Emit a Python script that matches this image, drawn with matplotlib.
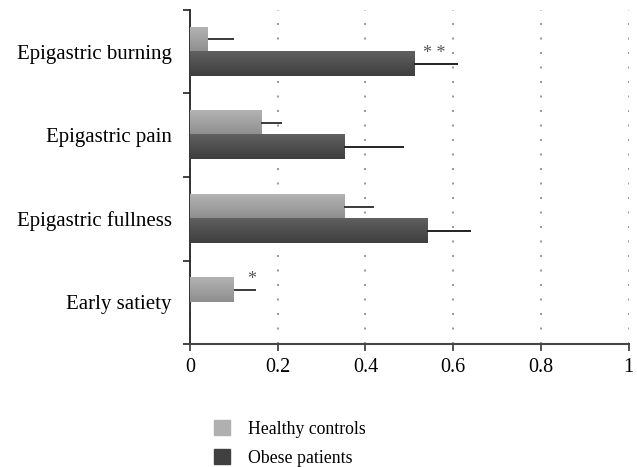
import numpy as np
import matplotlib
matplotlib.use("Agg")
import matplotlib.pyplot as plt
from matplotlib.patches import Patch
from matplotlib.colors import LinearSegmentedColormap

plt.rcParams['font.family'] = ['Liberation Serif', 'DejaVu Serif']

# data
symptoms = ['Epigastric burning', 'Epigastric pain', 'Epigastric fullness', 'Early satiety']
healthy = [0.041, 0.162, 0.351, 0.100]
healthy_err = [0.059, 0.048, 0.069, 0.050]
obese = [0.511, 0.351, 0.540, 0.0]
obese_err = [0.099, 0.137, 0.100, 0.0]
marks_healthy = ['', '', '', '*']
marks_obese = ['* *', '', '', '']
mark_x_healthy = [0, 0, 0, 0.141]
mark_x_obese = [0.557, 0, 0, 0]

fig = plt.figure(figsize=(6.37, 4.67), dpi=100)
ax = fig.add_axes([0.298, 0.263, 0.689, 0.716])

y = np.arange(len(symptoms))
h = 0.29

b1 = ax.barh(y - h / 2, healthy, height=h, color='#a4a4a4', zorder=2)
b2 = ax.barh(y + h / 2, obese, height=h, color='#4f4f4f', zorder=2)

# vertical gradient on the bars (lighter on top)
cm1 = LinearSegmentedColormap.from_list('c1', ['#b3b3b3', '#8e8e8e'])
cm2 = LinearSegmentedColormap.from_list('c2', ['#606060', '#3e3e3e'])
grad = np.linspace(0, 1, 64).reshape(-1, 1)
for bars, cm in ((b1, cm1), (b2, cm2)):
    for p in bars:
        x0, y0 = p.get_x(), p.get_y()
        w, hh = p.get_width(), p.get_height()
        if w <= 0:
            continue
        ax.imshow(grad, cmap=cm, aspect='auto', extent=(x0, x0 + w, y0 + hh, y0),
                  zorder=3, interpolation='bilinear')
        p.set_visible(False)

# one-sided error bars
ax.errorbar(healthy, y - h / 2, xerr=[np.zeros(4), healthy_err], fmt='none',
            ecolor='#3a3a3a', elinewidth=1.4, capsize=0, zorder=4)
sel = np.array(obese) > 0
ax.errorbar(np.array(obese)[sel], (y + h / 2)[sel],
            xerr=[np.zeros(sel.sum()), np.array(obese_err)[sel]], fmt='none',
            ecolor='#222222', elinewidth=1.4, capsize=0, zorder=4)

for i in range(len(symptoms)):
    if marks_healthy[i]:
        ax.text(mark_x_healthy[i], i - h + 0.02, marks_healthy[i], ha='center', va='center',
                fontsize=13, color='#555555', zorder=5)
    if marks_obese[i]:
        ax.text(mark_x_obese[i], i + 0.02, marks_obese[i], ha='center', va='center',
                fontsize=13, color='#555555', zorder=5)

ax.set_xlim(0, 1)
ax.set_ylim(3.5, -0.5)
ax.set_xticks([0, 0.2, 0.4, 0.6, 0.8, 1])
ax.set_xticklabels(['0', '0.2', '0.4', '0.6', '0.8', '1'], fontsize=14.5)
ax.set_yticks(y)
ax.set_yticklabels(symptoms, fontsize=15)
ax.tick_params(axis='y', length=0, pad=13)
ax.set_yticks(np.arange(-0.5, 4.0, 1.0), minor=True)
ax.tick_params(axis='y', which='minor', length=5, width=1.2, color='#222222')
ax.tick_params(axis='x', length=5, width=1.2, color='#333333', pad=5)

ax.xaxis.grid(True, linestyle=(0, (1.2, 7.5)), color='#888888', linewidth=1.2, zorder=0)
ax.set_axisbelow(True)
for s in ('top', 'right'):
    ax.spines[s].set_visible(False)
ax.spines['left'].set_color('#222222')
ax.spines['left'].set_linewidth(1.3)
ax.spines['bottom'].set_color('#444444')
ax.spines['bottom'].set_linewidth(1.5)

handles = [Patch(color='#b0b0b0', label='Healthy controls'),
           Patch(color='#404040', label='Obese patients')]
fig.legend(handles=handles, loc='upper left', bbox_to_anchor=(0.325, 0.115),
           frameon=False, fontsize=12.8, handlelength=0.9, handleheight=0.9,
           handletextpad=1.0, labelspacing=0.65, borderaxespad=0)

fig.savefig('out.png', dpi=100)
